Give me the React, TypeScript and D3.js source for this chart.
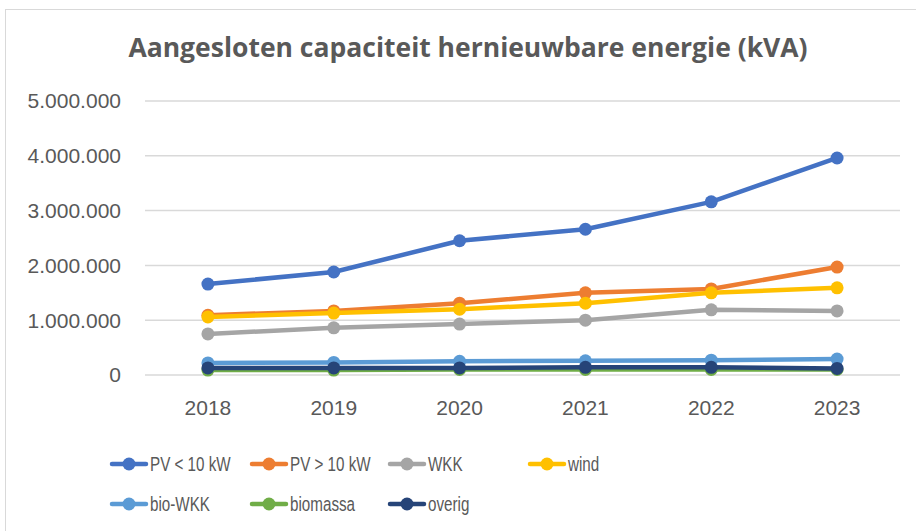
import React from "react";
import * as d3 from "d3";

const years = ["2018", "2019", "2020", "2021", "2022", "2023"];
const seriesNames = ["PV < 10 kW", "PV > 10 kW", "WKK", "wind", "bio-WKK", "biomassa", "overig"];
const colors = ["#4472C4", "#ED7D31", "#A5A5A5", "#FFC000", "#5B9BD5", "#70AD47", "#264478"];
const pvSmall = [1660000, 1880000, 2450000, 2660000, 3160000, 3960000];
const pvLarge = [1090000, 1170000, 1310000, 1500000, 1570000, 1970000];
const wkk = [750000, 860000, 930000, 1000000, 1190000, 1170000];
const wind = [1060000, 1130000, 1200000, 1310000, 1500000, 1590000];
const bioWkk = [220000, 230000, 250000, 260000, 270000, 290000];
const biomassa = [90000, 90000, 100000, 100000, 100000, 100000];
const overig = [130000, 130000, 130000, 140000, 140000, 120000];
const yTicks = [0, 1000000, 2000000, 3000000, 4000000, 5000000];

const seriesValues = [pvSmall, pvLarge, wkk, wind, bioWkk, biomassa, overig];

const W = 916;
const H = 531;
const margin = { top: 101, right: 16, bottom: 156, left: 145 };
const font = "'Liberation Sans', Arial, sans-serif";
const textColor = "#595959";

const fmt = (v: number) => d3.format(",")(v).replace(/,/g, ".");

export default function App() {
  const x = d3
    .scaleBand()
    .domain(years)
    .range([margin.left, W - margin.right]);
  const y = d3
    .scaleLinear()
    .domain([0, 5000000])
    .range([H - margin.bottom, margin.top]);

  const cx = (i: number) => (x(years[i]) as number) + x.bandwidth() / 2;

  const line = d3
    .line<number>()
    .x((_, i) => cx(i))
    .y((d) => y(d));

  const legendCols = [112, 252, 390, 530];
  const legendRows = [464, 504];

  return (
    <svg
      width={W}
      height={H}
      style={{ position: "absolute", left: 0, top: 0, fontFamily: font }}
    >
      <rect x={0} y={0} width={W} height={H} fill="#fff" />
      <rect x={5.5} y={9.5} width={W} height={H} fill="#fff" stroke="#d9d9d9" />
      <text
        x={468}
        y={57}
        textAnchor="middle"
        fontSize={26.5}
        fontWeight="bold"
        fontFamily="'Open Sans', sans-serif"
        fill={textColor}
      >
        Aangesloten capaciteit hernieuwbare energie (kVA)
      </text>

      {yTicks.map((t) => (
        <g key={t}>
          <line
            x1={margin.left}
            x2={W - margin.right}
            y1={y(t)}
            y2={y(t)}
            stroke="#d9d9d9"
            strokeWidth={1.5}
          />
          <text
            x={121}
            y={y(t)}
            dy="0.35em"
            textAnchor="end"
            fontSize={21}
            fill={textColor}
          >
            {fmt(t)}
          </text>
        </g>
      ))}

      {years.map((yr, i) => (
        <text
          key={yr}
          x={cx(i)}
          y={415}
          textAnchor="middle"
          fontSize={21}
          fill={textColor}
        >
          {yr}
        </text>
      ))}

      {seriesValues.map((vals, s) => (
        <g key={seriesNames[s]}>
          <path
            d={line(vals) || ""}
            fill="none"
            stroke={colors[s]}
            strokeWidth={4.5}
            strokeLinejoin="round"
            strokeLinecap="round"
          />
          {vals.map((v, i) => (
            <circle key={i} cx={cx(i)} cy={y(v)} r={6.5} fill={colors[s]} />
          ))}
        </g>
      ))}

      {seriesNames.map((name, s) => {
        const lx = legendCols[s % 4];
        const ly = legendRows[Math.floor(s / 4)];
        return (
          <g key={name}>
            <line
              x1={lx}
              x2={lx + 34}
              y1={ly}
              y2={ly}
              stroke={colors[s]}
              strokeWidth={4.5}
              strokeLinecap="round"
            />
            <circle cx={lx + 17} cy={ly} r={6.5} fill={colors[s]} />
            {/* narrowed text, the original face is condensed */}
            <text
              transform={`translate(${lx + 38},${ly}) scale(0.78,1)`}
              dy="0.35em"
              fontSize={19.5}
              fill={textColor}
            >
              {name}
            </text>
          </g>
        );
      })}
    </svg>
  );
}
